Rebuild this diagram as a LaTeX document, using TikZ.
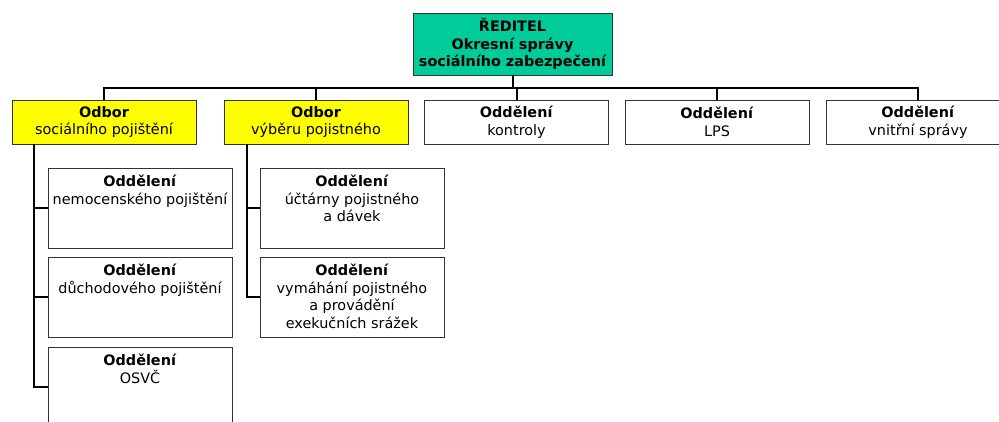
\documentclass[tikz,border=0pt]{standalone}
\usepackage{fontspec}
\setmainfont{DejaVu Sans}
\definecolor{dirgreen}{RGB}{0,204,153}
\definecolor{odyellow}{RGB}{255,255,0}
\begin{document}
\begin{tikzpicture}[x=1pt,y=-1pt,
  box/.style={draw=black!80,line width=0.9pt,rectangle,inner sep=0pt,outer sep=0pt},
  topbox/.style={box,minimum width=184pt,minimum height=44pt,
    font=\fontsize{14.4}{17.5}\selectfont,align=center},
  subbox/.style={box,minimum width=184pt,minimum height=80pt},
  subtext/.style={inner sep=0pt,anchor=north,align=center,
    font=\fontsize{14.4}{17.5}\selectfont},
  conn/.style={draw=black,line width=2pt}]
\useasboundingbox (0,0) rectangle (999,421);
\fill[white] (0,0) rectangle (999,421);
\clip (0,0) rectangle (999,421);
% director
\node[box,fill=dirgreen,minimum width=199pt,minimum height=62pt,
  font=\fontsize{14.4}{17.5}\selectfont\bfseries,align=center] (dir) at (512.5,44)
  {ŘEDITEL\\Okresní správy\\sociálního zabezpečení};
% first row
\node[topbox,fill=odyellow] (b1) at (104,122) {\textbf{Odbor}\\sociálního pojištění};
\node[topbox,fill=odyellow] (b2) at (316,122) {\textbf{Odbor}\\výběru pojistného};
\node[topbox,fill=white] (b3) at (516.5,122) {\textbf{Oddělení}\\kontroly};
\node[topbox,fill=white] (b4) at (717,122) {\textbf{Oddělení}\\LPS};
\node[topbox,fill=white] (b5) at (918,122) {\textbf{Oddělení}\\vnitřní správy};
% sub boxes under b1
\node[subbox] (sa) at (140,208) {};
\node[subbox] (sb) at (140,297) {};
\node[subbox] (sc) at (140,387) {};
\node[subtext] (ta) at ([yshift=-7pt]sa.north) {\textbf{Oddělení}\\nemocenského pojištění};
\node[subtext] (tb) at ([yshift=-7pt]sb.north) {\textbf{Oddělení}\\důchodového pojištění};
\node[subtext] (tc) at ([yshift=-7pt]sc.north) {\textbf{Oddělení}\\OSVČ};
% sub boxes under b2
\node[subbox] (sd) at (352,208) {};
\node[subbox] (se) at (352,297) {};
\node[subtext] (td) at ([yshift=-7pt]sd.north) {\textbf{Oddělení}\\účtárny pojistného\\a dávek};
\node[subtext] (te) at ([yshift=-7pt]se.north) {\textbf{Oddělení}\\vymáhání pojistného\\a provádění\\exekučních srážek};
% bus
\coordinate (bus) at (0,88);
\draw[conn] (dir.south) -- (dir.south |- bus);
\draw[conn] (b1.north) -- (b1.north |- bus) -- (b5.north |- bus) -- (b5.north);
\draw[conn] (b2.north) -- (b2.north |- bus);
\draw[conn] (b3.north) -- (b3.north |- bus);
\draw[conn] (b4.north) -- (b4.north |- bus);
% verticals
\draw[conn] ([xshift=-70pt]b1.south) |- (sc.west);
\draw[conn] ([xshift=-70pt]b1.south |- sa.west) -- (sa.west);
\draw[conn] ([xshift=-70pt]b1.south |- sb.west) -- (sb.west);
\draw[conn] ([xshift=-69pt]b2.south) |- (se.west);
\draw[conn] ([xshift=-69pt]b2.south |- sd.west) -- (sd.west);
\end{tikzpicture}
\end{document}
